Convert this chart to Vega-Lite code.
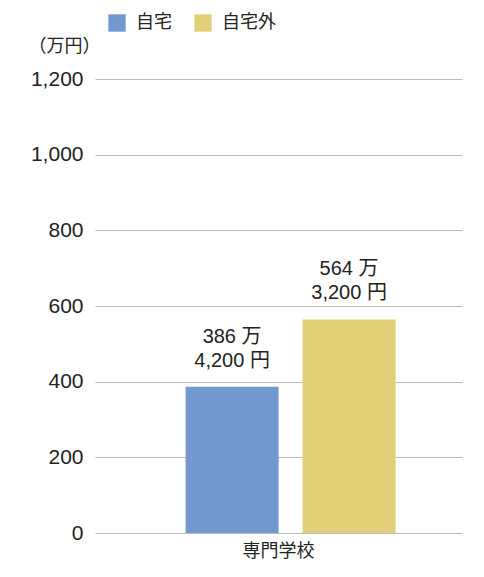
{
  "$schema": "https://vega.github.io/schema/vega-lite/v6.json",
  "width": 367,
  "height": 454,
  "autosize": {"type": "none"},
  "padding": {"left": 95, "top": 79, "right": 22, "bottom": 44},
  "config": {
    "view": {"stroke": null},
    "font": "Liberation Sans, Noto Sans CJK JP",
    "axis": {"labelFont": "Liberation Sans, Noto Sans CJK JP", "titleFont": "Noto Sans CJK JP"},
    "legend": {"labelFont": "Noto Sans CJK JP"}
  },
  "data": {
    "values": [
      {"school": "専門学校", "type": "自宅", "value": 386.42, "label": "386 万\n4,200 円"},
      {"school": "専門学校", "type": "自宅外", "value": 564.32, "label": "564 万\n3,200 円"}
    ]
  },
  "encoding": {
    "x": {
      "field": "school",
      "type": "nominal",
      "scale": {"paddingInner": 0, "paddingOuter": 0},
      "axis": {
        "title": null,
        "labelAngle": 0,
        "labelFont": "Noto Sans CJK JP",
        "labelFontSize": 18,
        "labelColor": "#222",
        "labelPadding": 9,
        "ticks": false,
        "domain": false
      }
    },
    "xOffset": {
      "field": "type",
      "type": "nominal",
      "scale": {"domain": ["自宅", "自宅外"], "paddingInner": 0.205, "paddingOuter": 0.671, "align": 0.577}
    },
    "y": {
      "field": "value",
      "type": "quantitative",
      "scale": {"domain": [0, 1200]},
      "axis": {
        "values": [0, 200, 400, 600, 800, 1000, 1200],
        "format": ",d",
        "domain": false,
        "ticks": false,
        "gridColor": "#bbbbbb",
        "gridWidth": 1.2,
        "labelFontSize": 21,
        "labelColor": "#222",
        "labelPadding": 12,
        "title": "（万円）",
        "titleAngle": 0,
        "titleAlign": "left",
        "titleBaseline": "middle",
        "titleX": -67,
        "titleY": -33,
        "titleFontSize": 18,
        "titleFontWeight": "normal",
        "titleColor": "#222"
      }
    }
  },
  "layer": [
    {
      "mark": {"type": "bar"},
      "encoding": {
        "color": {
          "field": "type",
          "type": "nominal",
          "scale": {"domain": ["自宅", "自宅外"], "range": ["#7397cf", "#e1d077"]},
          "legend": {
            "title": null,
            "orient": "none",
            "direction": "horizontal",
            "legendX": 13,
            "legendY": -65,
            "symbolType": "square",
            "symbolSize": 300,
            "symbolStrokeWidth": 0,
            "labelFontSize": 18,
            "labelColor": "#222",
            "labelOffset": 10,
            "columnPadding": 22
          }
        }
      }
    },
    {
      "mark": {"type": "bar", "color": "white", "yOffset": -60, "y2Offset": -14, "width": {"band": 0.92}},
      "encoding": {"y2": {"field": "value"}}
    },
    {
      "mark": {
        "type": "text",
        "baseline": "bottom",
        "dy": -40,
        "fontSize": 20,
        "lineHeight": 24,
        "lineBreak": "\n",
        "color": "#222"
      },
      "encoding": {"text": {"field": "label"}}
    }
  ]
}
